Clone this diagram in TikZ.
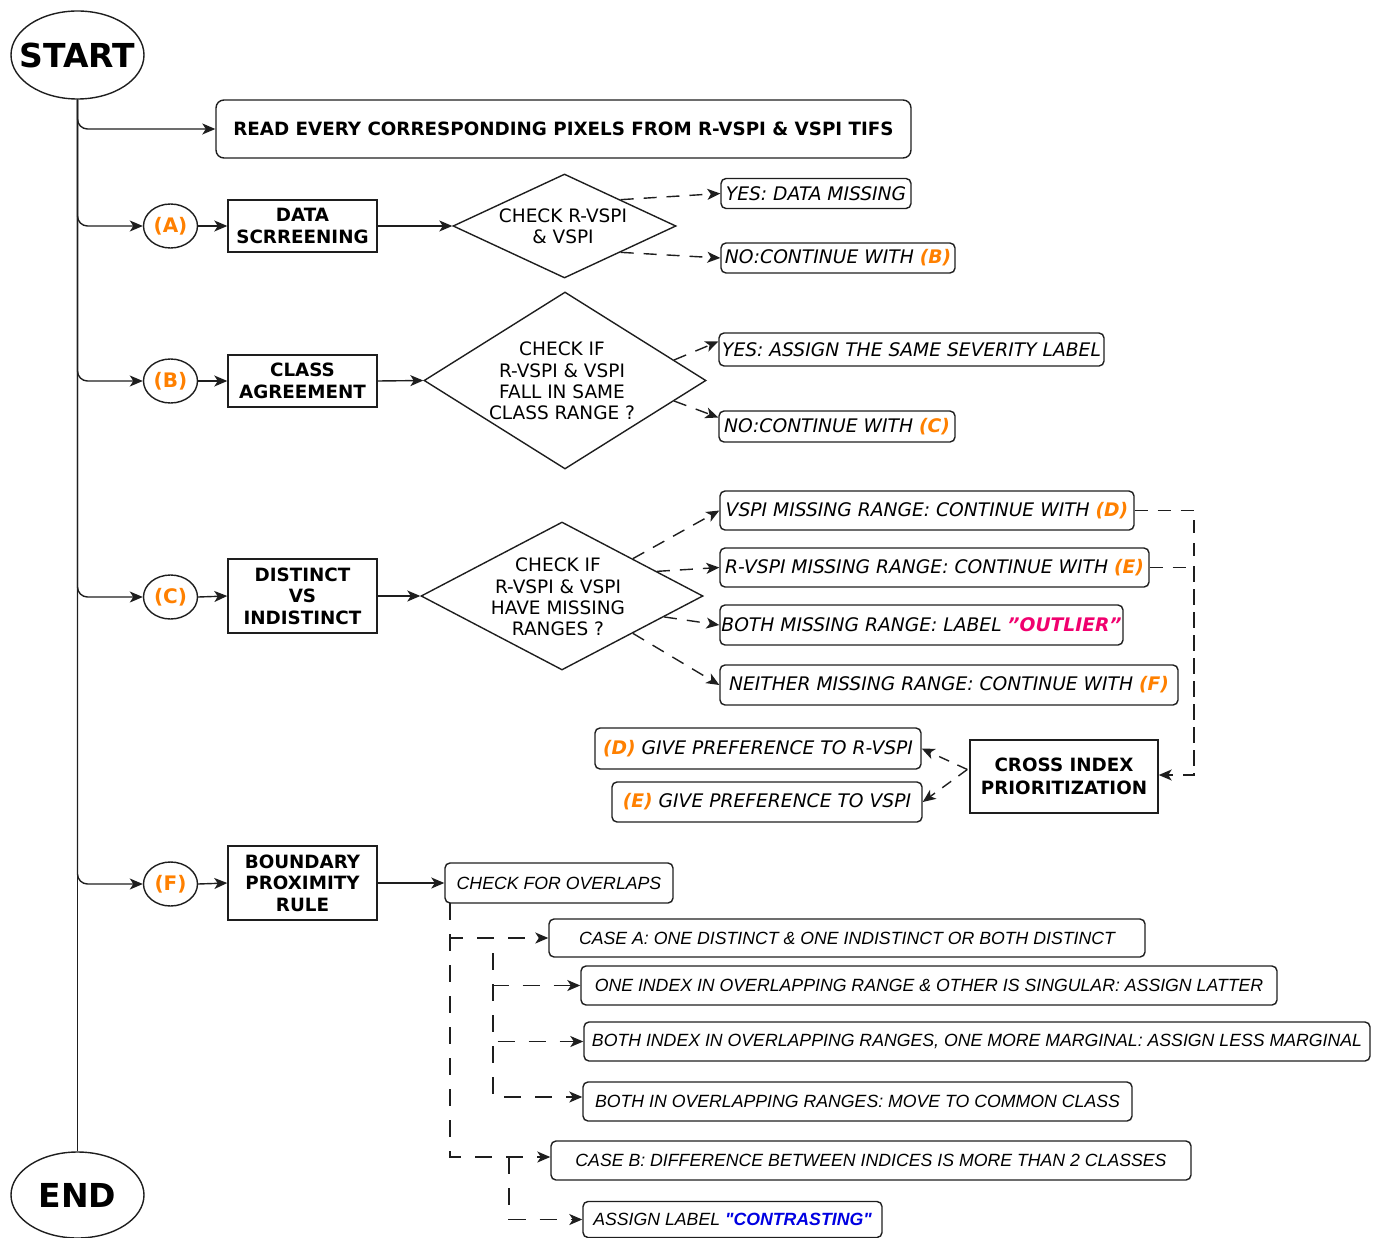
\documentclass[tikz,border=0pt]{standalone}
\usepackage{fontspec}
\setmainfont{DejaVu Sans}
\newfontfamily\arialf{Liberation Sans}
\usetikzlibrary{shapes.geometric,arrows.meta,calc}
\definecolor{orng}{RGB}{255,128,0}
\definecolor{pnk}{RGB}{240,0,110}
\definecolor{blu}{RGB}{0,0,225}
\definecolor{ln}{RGB}{30,30,30}
\begin{document}
\begin{tikzpicture}[x=1pt,y=-1pt,
  arr/.style={line width=1.4pt, draw=ln, -{Stealth[length=13pt,width=11pt,inset=3.5pt]}},
  darr/.style={arr, dash pattern=on 13pt off 10pt},
  barr/.style={arr, dash pattern=on 17pt off 14pt},
  plain/.style={line width=1.4pt, draw=ln},
  bbox/.style={draw=ln, line width=1.4pt, inner sep=0pt, align=center, font=\fontsize{18.3}{21.5}\selectfont\bfseries},
  ibox/.style={draw=ln, line width=1.4pt, rounded corners=5pt, inner sep=0pt, align=center, font=\fontsize{18.7}{22}\selectfont\itshape},
  abox/.style={draw=ln, line width=1.4pt, rounded corners=5pt, inner sep=0pt, align=center, font=\arialf\fontsize{17.7}{21}\selectfont\itshape},
  circ/.style={draw=ln, ellipse, line width=1.4pt, minimum width=54pt, minimum height=44pt, inner sep=0pt, text=orng, font=\fontsize{20}{22}\selectfont\bfseries},
  term/.style={draw=ln, ellipse, line width=1.4pt, minimum width=133pt, minimum height=88pt, inner sep=0pt},
  termtext/.style={font=\fontsize{33}{36}\selectfont\bfseries, inner sep=0pt},
  dia/.style={draw=ln, diamond, line width=1.4pt, inner sep=0pt},
  diatext/.style={align=center, font=\fontsize{18.5}{21.3}\selectfont},
]
\useasboundingbox (0,0) rectangle (1380,1238);

% terminals
\node[term] (start) at (77.5,55) {};
\node[termtext] at (start.center) {START};
\node[term, minimum height=86pt] (end) at (77.5,1195) {};
\node[termtext] at (end.center) {END};
\draw[plain] (start.south) -- (end.north);

% read box
\node[bbox, rounded corners=8pt, minimum width=695pt, minimum height=58pt] (read) at (563.5,129) {READ EVERY CORRESPONDING PIXELS FROM R-VSPI \& VSPI TIFS};

% letters
\node[circ] (ca) at (170.5,226) {(A)};
\node[circ] (cb) at (170.5,381) {(B)};
\node[circ] (cc) at (170.5,597) {(C)};
\node[circ] (cf) at (170.5,884) {(F)};

\foreach \n in {read,ca,cb,cc,cf}
  \draw[arr, rounded corners=10pt] (start.south) |- (\n.west);

% bold boxes
\node[bbox, minimum width=149pt, minimum height=52pt] (ds) at (302.5,226) {DATA\\SCRREENING};
\node[bbox, minimum width=149pt, minimum height=52pt] (cag) at (302.5,381) {CLASS\\AGREEMENT};
\node[bbox, minimum width=149pt, minimum height=74pt] (dvi) at (302.5,596) {DISTINCT\\VS\\INDISTINCT};
\node[bbox, minimum width=149pt, minimum height=74pt] (bpr) at (302.5,883) {BOUNDARY\\PROXIMITY\\RULE};
\node[bbox, minimum width=188pt, minimum height=73pt, font=\fontsize{18.3}{23}\selectfont\bfseries] (cross) at (1064,776.5) {CROSS INDEX\\PRIORITIZATION};

\draw[arr] (ca.east) -- (ds.west);
\draw[arr] (cb.east) -- (cag.west);
\draw[arr] (cc.east) -- (dvi.west);
\draw[arr] (cf.east) -- (bpr.west);

% diamonds
\node[dia, minimum width=223pt, minimum height=104pt] (d1) at (564.5,226) {};
\node[diatext] at (563,226) {CHECK R-VSPI\\\& VSPI};
\node[dia, minimum width=282pt, minimum height=177pt] (d2) at (565,380.5) {};
\node[diatext] at (562,381) {CHECK IF\\R-VSPI \& VSPI\\FALL IN SAME\\CLASS RANGE ?};
\node[dia, minimum width=282pt, minimum height=148pt] (d3) at (562,596) {};
\node[diatext] at (558,597) {CHECK IF\\R-VSPI \& VSPI\\HAVE MISSING\\RANGES ?};

\draw[arr] (ds.east) -- (d1.west);
\draw[arr] (cag.east) -- (d2.west);
\draw[arr] (dvi.east) -- (d3.west);

% italic result boxes
\node[ibox, minimum width=190pt, minimum height=30pt] (yesa) at (816,193.5) {YES: DATA MISSING};
\node[ibox, minimum width=234pt, minimum height=30pt] (noa) at (838,258) {NO:CONTINUE WITH {\bfseries\color{orng}(B)}};
\node[ibox, minimum width=385pt, minimum height=33pt] (yesb) at (911.5,349.5) {YES: ASSIGN THE SAME SEVERITY LABEL};
\node[ibox, minimum width=236pt, minimum height=31pt] (nob) at (837,426.5) {NO:CONTINUE WITH {\bfseries\color{orng}(C)}};
\node[ibox, minimum width=414pt, minimum height=39pt] (vspi) at (927,510.5) {VSPI MISSING RANGE: CONTINUE WITH {\bfseries\color{orng}(D)}};
\node[ibox, minimum width=429pt, minimum height=39pt] (rvspi) at (934.5,567.5) {R-VSPI MISSING RANGE: CONTINUE WITH {\bfseries\color{orng}(E)}};
\node[ibox, minimum width=403pt, minimum height=40pt] (both) at (921.5,625) {BOTH MISSING RANGE: LABEL {\bfseries\color{pnk}"OUTLIER"}};
\node[ibox, minimum width=458pt, minimum height=40pt] (neither) at (949,685) {NEITHER MISSING RANGE: CONTINUE WITH {\bfseries\color{orng}(F)}};
\node[ibox, minimum width=326pt, minimum height=41pt] (prefd) at (758,748.5) {{\bfseries\color{orng}(D)} GIVE PREFERENCE TO R-VSPI};
\node[ibox, minimum width=310pt, minimum height=40pt] (prefe) at (767,802) {{\bfseries\color{orng}(E)} GIVE PREFERENCE TO VSPI};

% dashed connectors from diamonds
\draw[darr] ($(d1.north)!0.5!(d1.east)$) -- (yesa.west);
\draw[darr] ($(d1.south)!0.5!(d1.east)$) -- (noa.west);
\draw[darr] ($(d2.north)!0.77!(d2.east)$) -- ($(yesb.west)+(0,-8)$);
\draw[darr] ($(d2.south)!0.77!(d2.east)$) -- ($(nob.west)+(0,-9)$);
\draw[darr] ($(d3.north)!0.5!(d3.east)$) -- (vspi.west);
\draw[darr] ($(d3.north)!0.67!(d3.east)$) -- (rvspi.west);
\draw[darr] ($(d3.south)!0.72!(d3.east)$) -- (both.west);
\draw[darr] ($(d3.south)!0.5!(d3.east)$) -- (neither.west);

% to cross index
\coordinate (cr) at (1194,775);
\draw[darr] (vspi.east) -| (cr) -- ($(cross.east)+(0,-1.5)$);
\draw[plain, dash pattern=on 13pt off 10pt] (rvspi.east) -| (cr);
\coordinate (cx) at ($(cross.west)+(-2,-7)$);
\draw[darr, dash pattern=on 11pt off 9pt] (cx) -- (prefd.east);
\draw[darr, dash pattern=on 11pt off 9pt] (cx) -- (prefe.east);

% boundary proximity tree
\node[abox, minimum width=228pt, minimum height=40pt] (chk) at (559,883) {CHECK FOR OVERLAPS};
\draw[arr] (bpr.east) -- (chk.west);
\node[abox, minimum width=596pt, minimum height=38pt] (casea) at (847,938) {CASE A: ONE DISTINCT \& ONE INDISTINCT OR BOTH DISTINCT};
\node[abox, minimum width=696pt, minimum height=39pt] (oneidx) at (929,985.5) {ONE INDEX IN OVERLAPPING RANGE \& OTHER IS SINGULAR: ASSIGN LATTER};
\node[abox, minimum width=786pt, minimum height=39pt] (bothidx) at (977,1041.5) {BOTH INDEX IN OVERLAPPING RANGES, ONE MORE MARGINAL: ASSIGN LESS MARGINAL};
\node[abox, minimum width=549pt, minimum height=39pt] (bothin) at (857.5,1101.5) {BOTH IN OVERLAPPING RANGES: MOVE TO COMMON CLASS};
\node[abox, minimum width=640pt, minimum height=39pt] (caseb) at (871,1160.5) {CASE B: DIFFERENCE BETWEEN INDICES IS MORE THAN 2 CLASSES};
\node[abox, minimum width=299pt, minimum height=36pt] (assign) at (732.5,1219.5) {ASSIGN LABEL {\bfseries\color{blu}"CONTRASTING"}};

\coordinate (ta) at (450,903);
\draw[barr] (ta) |- (casea.west);
\draw[barr] (ta) |- ($(caseb.west)+(0,-3.5)$);
\coordinate (tb) at (493,953);
\draw[barr] (tb) |- (oneidx.west);
\draw[barr] (tb) |- (bothidx.west);
\draw[barr] (tb) |- ($(bothin.west)+(0,-4.5)$);
\coordinate (tc) at (509,1157);
\draw[barr] (tc) |- (assign.west);
\end{tikzpicture}
\end{document}
